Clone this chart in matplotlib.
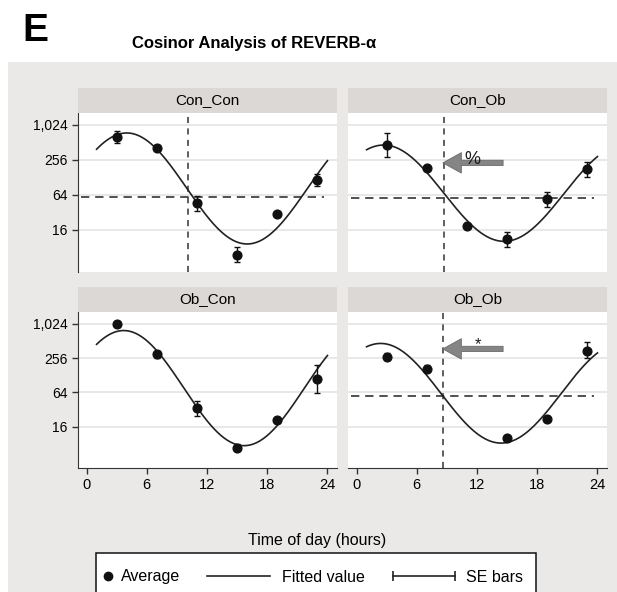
import numpy as np
import matplotlib
matplotlib.use('Agg')
import matplotlib.pyplot as plt
from matplotlib.patches import Rectangle
from matplotlib.lines import Line2D
from matplotlib.legend_handler import HandlerLine2D

plt.rcParams['font.family'] = ['Liberation Sans', 'DejaVu Sans']

W, H = 617, 592

# ---- data ----
panels = ['Con_Con', 'Con_Ob', 'Ob_Con', 'Ob_Ob']
hours = [[3, 7, 11, 15, 19, 23],
         [3, 7, 11, 15, 19, 23],
         [3, 7, 11, 15, 19, 23],
         [3, 7, 15, 19, 23]]

avg_con_con = [640, 412, 46, 6.0, 30, 116]
lo_con_con = [510, 370, 34, 4.5, 28, 92]
hi_con_con = [805, 455, 62, 8.1, 32, 146]

avg_con_ob = [464, 185, 18.8, 11.2, 54, 177]
lo_con_ob = [292, 172, 17, 8.3, 40, 131]
hi_con_ob = [734, 198, 21, 15, 73, 239]

avg_ob_con = [1024, 296, 34, 6.9, 21, 110]
lo_ob_con = [920, 258, 25, 6.0, 19, 62]
hi_ob_con = [1140, 340, 46, 7.9, 23, 195]

avg_ob_ob = [272, 167, 10.1, 22, 347]
lo_ob_ob = [237, 145, 9.1, 20, 254]
hi_ob_ob = [312, 192, 11.2, 24.4, 484]

averages = [avg_con_con, avg_con_ob, avg_ob_con, avg_ob_ob]
lowers = [lo_con_con, lo_con_ob, lo_ob_con, lo_ob_ob]
uppers = [hi_con_con, hi_con_ob, hi_ob_con, hi_ob_ob]

# cosinor fit (log2 scale): mesor, amplitude, acrophase in hours
mesor = [6.37, 6.1, 6.25, 5.95]
amplitude = [3.17, 2.75, 3.35, 2.9]
acrophase = [4.0, 2.7, 3.7, 2.4]
fit_range = (1, 24)

mesor_line = [60, 57, None, 55]
mesor_cross = [10.1, 8.67, None, 8.6]
arrow_mark = [None, '%', None, '*']
arrow_level = [None, 228, None, 370]
mark_pos = [None, (11.55, 262), None, (12.05, 440)]
arrow_span = (14.6, 8.6)

yticks = [16, 64, 256, 1024]
yticklabels = ['16', '64', '256', '1,024']
xticks = [0, 6, 12, 18, 24]

bg = '#ebe9e7'
strip_col = '#dcd8d5'
grid_col = '#e6e6e6'


def box(x0, y0, x1, y1):
    return [x0 / W, 1 - y1 / H, (x1 - x0) / W, (y1 - y0) / H]


fig = plt.figure(figsize=(W / 100, H / 100), dpi=100)
fig.patch.set_facecolor('white')
fig.patches.append(Rectangle((8 / W, 0), 1 - 8 / W, 1 - 62 / H,
                             transform=fig.transFigure, fc=bg, ec='none', zorder=-10))

cols = [(78, 337), (348, 607)]
rows = [(88, 113, 272), (287, 312, 468)]

for i, name in enumerate(panels):
    r, c = divmod(i, 2)
    x0, x1 = cols[c]
    s0, p0, p1 = rows[r]
    ax = fig.add_axes(box(x0, p0, x1, p1))
    sax = fig.add_axes(box(x0, s0, x1, p0))
    sax.set_facecolor(strip_col)
    sax.set_xticks([])
    sax.set_yticks([])
    for sp in sax.spines.values():
        sp.set_visible(False)
    sax.text(0.5, 0.5, name, ha='center', va='center', fontsize=11,
             transform=sax.transAxes)

    ax.set_facecolor('white')
    ax.set_yscale('log', base=2)
    ax.set_ylim(2 ** 1.6, 2 ** 10.68)
    ax.set_xlim(-0.85, 24.95)
    ax.set_yticks(yticks)
    ax.set_yticklabels(yticklabels)
    ax.yaxis.set_minor_locator(matplotlib.ticker.NullLocator())
    ax.set_xticks(xticks)
    ax.yaxis.grid(True, color=grid_col, lw=1.3)
    ax.set_axisbelow(True)
    ax.tick_params(labelsize=10.5, color='#333333', length=4, width=1)
    ax.tick_params(axis='y', labelsize=10)
    for sp in ['top', 'right']:
        ax.spines[sp].set_visible(False)
    ax.spines['left'].set_color('#333333')
    ax.spines['bottom'].set_color('#333333')
    if r == 0:
        ax.spines['bottom'].set_visible(False)
        ax.tick_params(bottom=False, labelbottom=False)
    if c == 1:
        ax.spines['left'].set_visible(False)
        ax.tick_params(left=False, labelleft=False)

    # fitted cosinor curve
    t = np.linspace(fit_range[0], fit_range[1], 300)
    fit = 2 ** (mesor[i] + amplitude[i] * np.cos(2 * np.pi * (t - acrophase[i]) / 24))
    ax.plot(t, fit, color='#222222', lw=1.2, zorder=3)

    avg = np.array(averages[i])
    yerr = [avg - np.array(lowers[i]), np.array(uppers[i]) - avg]
    ax.errorbar(hours[i], avg, yerr=yerr, fmt='o', color='#111111', ms=6.3,
                elinewidth=1, capsize=2.3, capthick=1, zorder=4)

    if mesor_line[i] is not None:
        ax.hlines(mesor_line[i], -0.55, 23.7, colors='#333333', lw=1.2,
                  linestyles=(0, (5, 3.5)), zorder=2)
        ax.axvline(mesor_cross[i], color='#333333', lw=1.1,
                   ls=(0, (4, 3.5)), zorder=2)
    if arrow_mark[i] is not None:
        ax.annotate('', xy=(arrow_span[1], arrow_level[i]),
                    xytext=(arrow_span[0], arrow_level[i]),
                    arrowprops=dict(arrowstyle='simple,head_length=0.95,head_width=1.05,tail_width=0.27',
                                    fc='#858585', ec='#6a6a6a', lw=0.6,
                                    mutation_scale=14, shrinkA=0, shrinkB=0),
                    zorder=5)
        ax.text(mark_pos[i][0], mark_pos[i][1], arrow_mark[i],
                ha='center', va='center', color='#1a1a1a', zorder=6,
                fontsize=13 if arrow_mark[i] == '%' else 12)

fig.text(22 / W, 1 - 41 / H, 'E', fontsize=28, fontweight='bold', va='baseline', ha='left')
fig.text(254 / W, 1 - 48 / H, 'Cosinor Analysis of REVERB-\u03b1', fontsize=12,
         fontweight='bold', ha='center', va='baseline')
fig.text(317 / W, 1 - 540 / H, 'Time of day (hours)', fontsize=11.5,
         ha='center', va='center')


# legend
class EndLine(HandlerLine2D):
    def __init__(self, length, **kw):
        super().__init__(**kw)
        self.length = length

    def get_xdata(self, legend, xdescent, ydescent, width, height, fontsize):
        x = np.array([-xdescent + width - self.length, -xdescent + width])
        return x, x


fig.patches.append(Rectangle((96 / W, 1 - 600 / H), 440 / W, 47 / H,
                             transform=fig.transFigure, fc='white', ec='#111111',
                             lw=1.1, zorder=-5))
h_avg = Line2D([], [], marker='o', ls='none', color='#111111', ms=6)
h_fit = Line2D([], [], color='#222222', lw=1.2)
h_se = Line2D([], [], color='#222222', lw=1.2, marker='|', ms=7, mew=1.2)
fig.legend([h_avg, h_fit, h_se], ['Average', 'Fitted value', 'SE bars'],
           loc='center left', bbox_to_anchor=(96 / W, 1 - 577 / H), ncol=3,
           frameon=False, fontsize=11.5, handlelength=0.5, handletextpad=0.69,
           columnspacing=5.15, borderpad=0.375, borderaxespad=0,
           handler_map={h_avg: EndLine(2.8),
                        h_fit: EndLine(45.4),
                        h_se: EndLine(44.6, numpoints=2, marker_pad=0)})

fig.savefig('out.png', dpi=100)
